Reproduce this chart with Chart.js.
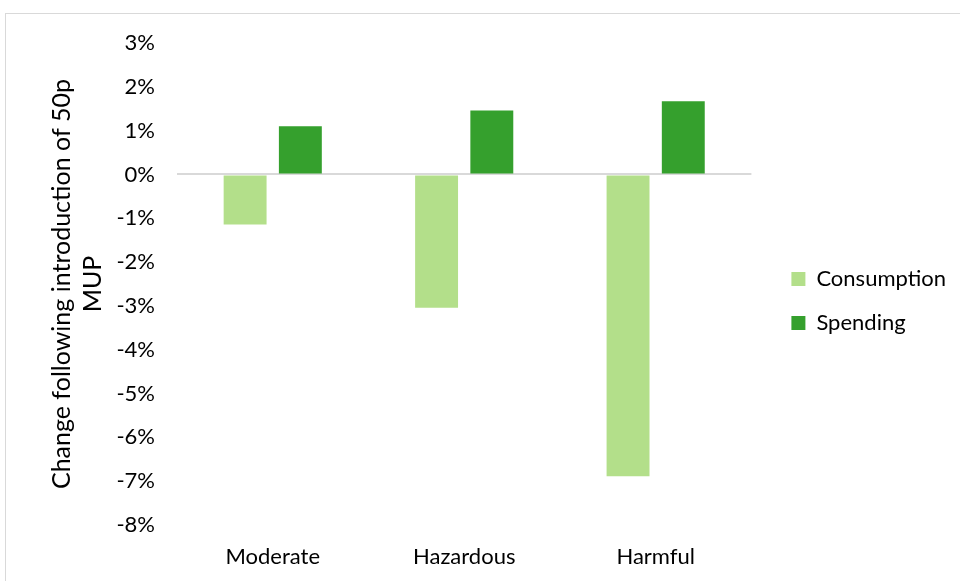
<!DOCTYPE html>
<html>
<head>
<meta charset="utf-8">
<script src="https://cdn.jsdelivr.net/npm/chart.js@4.4.0/dist/chart.umd.min.js"></script>
<style>
  html, body { margin: 0; padding: 0; background: #fff; }
  #wrap { position: absolute; left: 0; top: 0; width: 960px; height: 581px; }
  #frame { position: absolute; left: 5px; top: 13px; width: 1000px; height: 700px; border: 1px solid #d9d9d9; box-sizing: border-box; }
  canvas { position: absolute; left: 0; top: 0; }
</style>
</head>
<body>
<div id="wrap">
  <div id="frame"></div>
  <canvas id="chart" width="960" height="581"></canvas>
</div>
<script>
const categories = ['Moderate', 'Hazardous', 'Harmful'];
const consumption = [-1.14, -3.04, -6.89];
const spending = [1.10, 1.46, 1.67];
const yTicks = [3, 2, 1, 0, -1, -2, -3, -4, -5, -6, -7, -8];

const fontFamily = 'Lato, "Open Sans", sans-serif';

// nudge the legend a bit right and up, like the Excel original
const legendNudge = {
    id: 'legendNudge',
    afterLayout(chart) {
        const lg = chart.legend;
        lg.left += 18; lg.right += 18;
        lg.top -= 11; lg.bottom -= 11;
    }
};

const ctx = document.getElementById('chart').getContext('2d');
new Chart(ctx, {
    type: 'bar',
    data: {
        labels: categories,
        datasets: [
            {
                label: 'Consumption',
                data: consumption,
                backgroundColor: '#b3df8a',
                categoryPercentage: 0.577,
                barPercentage: 0.777
            },
            {
                label: 'Spending',
                data: spending,
                backgroundColor: '#35a02d',
                categoryPercentage: 0.577,
                barPercentage: 0.777
            }
        ]
    },
    plugins: [legendNudge],
    options: {
        responsive: false,
        animation: false,
        layout: { padding: { left: 0, top: 43, right: 22, bottom: 0 } },
        plugins: {
            legend: {
                position: 'right',
                labels: {
                    color: '#000',
                    font: { family: fontFamily, size: 22 },
                    boxWidth: 14,
                    boxHeight: 14,
                    padding: 22
                }
            },
            tooltip: { enabled: false }
        },
        scales: {
            x: {
                grid: { display: false, drawTicks: false },
                border: { display: false },
                afterFit: (s) => { s.height = 56; },
                ticks: {
                    color: '#000',
                    font: { family: fontFamily, size: 22 },
                    padding: 19
                }
            },
            y: {
                min: -8,
                max: 3,
                afterFit: (s) => { s.width = 177; },
                afterBuildTicks: (scale) => { scale.ticks = yTicks.map(v => ({ value: v })); },
                grid: {
                    drawTicks: false,
                    lineWidth: (c) => c.tick && c.tick.value === 0 ? 2 : 0,
                    color: '#d9d9d9'
                },
                border: { display: false },
                ticks: {
                    color: '#000',
                    font: { family: fontFamily, size: 22 },
                    padding: 22,
                    callback: (v) => v + '%'
                },
                title: {
                    display: true,
                    text: ['Change following introduction of 50p', 'MUP'],
                    color: '#000',
                    font: { family: fontFamily, size: 25, lineHeight: 1.24 },
                    padding: { top: 46, bottom: 0 }
                }
            }
        }
    }
});
</script>
</body>
</html>
